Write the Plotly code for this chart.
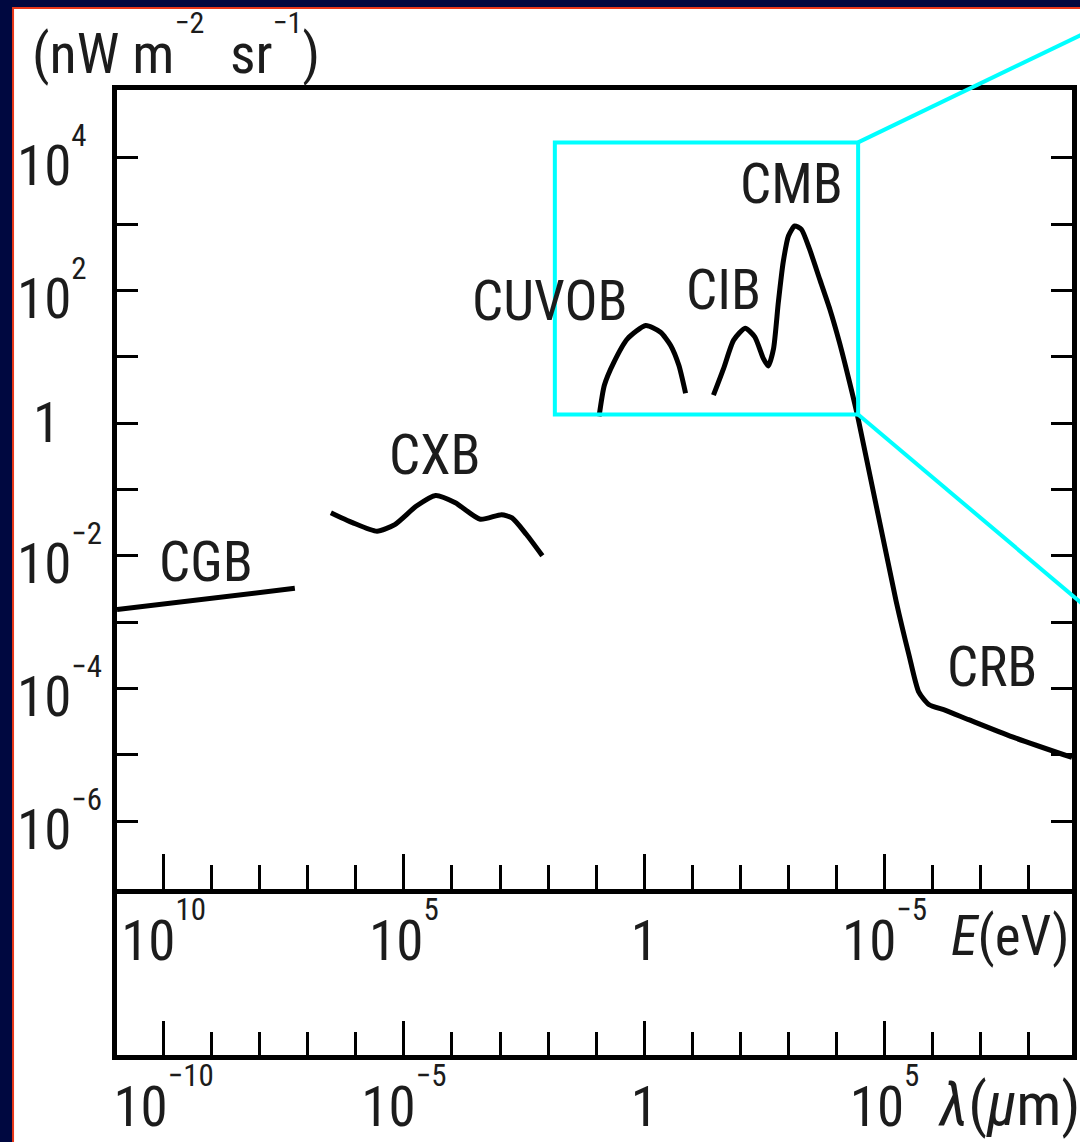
import plotly.graph_objects as go

# ---- data: log10 of wavelength (um) and log10 of intensity (nW m^-2 sr^-1) ----
cgb_log_lam = [-10.97, -7.27]
cgb_log_i = [-2.81, -2.49]

cxb_log_lam = [-6.52, -6.07, -5.56, -5.19, -4.74, -4.34, -3.93, -3.41, -2.97, -2.75, -2.45, -2.12]
cxb_log_i = [-1.35, -1.50, -1.63, -1.53, -1.25, -1.09, -1.20, -1.45, -1.38, -1.43, -1.68, -2.00]

cuvob_log_lam = [-0.94, -0.83, -0.63, -0.35, 0.03, 0.34, 0.55, 0.72, 0.86]
cuvob_log_i = [0.10, 0.57, 0.92, 1.27, 1.47, 1.37, 1.17, 0.87, 0.45]

# CIB rising into the CMB peak, then the Rayleigh-Jeans fall and the radio tail
cib_cmb_crb_log_lam = [1.44, 1.65, 1.86, 2.10, 2.30, 2.48, 2.58, 2.69, 2.79, 2.89, 3.00, 3.13,
                       3.27, 3.44, 3.65, 3.86, 4.06, 4.27, 4.45, 5.24, 5.51, 5.71, 5.92,
                       6.27, 6.75, 7.66, 8.90]
cib_cmb_crb_log_i = [0.42, 0.82, 1.25, 1.43, 1.30, 0.97, 0.86, 1.12, 1.82, 2.42, 2.82, 2.97,
                     2.92, 2.62, 2.17, 1.72, 1.22, 0.62, 0.07, -2.68, -3.50, -4.05, -4.24,
                     -4.33, -4.47, -4.73, -5.04]

band_labels = ["CGB", "CXB", "CUVOB", "CIB", "CMB", "CRB"]
band_label_log_lam = [-9.12, -4.35, -1.97, 1.64, 3.07, 7.23]
band_label_log_i = [-2.10, -0.48, 1.84, 2.01, 3.61, -3.68]

# axis ticks (decade exponents)
lam_major = [-10, -5, 0, 5]
lam_major_exp = ["−10", "−5", None, "5"]
e_major_exp = ["10", "5", None, "−5"]
lam_minor = [k for k in range(-10, 9) if k % 5]
i_ticks = [4, 2, 0, -2, -4, -6]
i_tick_exp = ["4", "2", None, "−2", "−4", "−6"]
i_all_ticks = list(range(-6, 5))

# zoom window drawn in cyan (data units)
zoom_log_lam = [-1.86, 4.45]
zoom_log_i = [0.13, 4.23]

# ---- layout geometry ----
W, H = 1080, 1142
ML, MR, MT, MB = 117, 3, 90, 82
PW, PH = W - ML - MR, H - MT - MB
SPLIT = (H - MB - 893) / PH          # top of the lower (wavelength) strip
XR = [-10.97, 8.90]
YR = [-7.02, 5.02]

FONT = "Liberation Sans Narrow, Arial Narrow, Roboto Condensed, DejaVu Sans Condensed, sans-serif"
INK = "#1c1c1c"


def sup(s, size=31):
    # exponent raised well above the digits, at a fixed small size
    return f"<sup><sup><span style='font-size:{size}px'>{s}</span></sup></sup>"


def power_label(exp):
    return "1" if exp is None else "10" + sup(exp)


def px(x):
    return (x - ML) / PW


def py(y):
    return (H - MB - y) / PH


def dx(u):
    return (u - XR[0]) / (XR[1] - XR[0])


def dy(v):
    return SPLIT + (v - YR[0]) / (YR[1] - YR[0]) * (1 - SPLIT)


def pow10(a):
    return [10 ** v for v in a]


fig = go.Figure()
fig.add_trace(go.Scatter(x=pow10(cgb_log_lam), y=pow10(cgb_log_i), mode="lines",
                         line=dict(color="black", width=5)))
for lx, ly in [(cxb_log_lam, cxb_log_i), (cuvob_log_lam, cuvob_log_i),
               (cib_cmb_crb_log_lam, cib_cmb_crb_log_i)]:
    fig.add_trace(go.Scatter(x=pow10(lx), y=pow10(ly), mode="lines",
                             line=dict(color="black", width=5, shape="spline", smoothing=0.6)))
fig.add_trace(go.Scatter(x=[None], y=[None], xaxis="x2", yaxis="y2"))

axis_common = dict(showline=True, linecolor="black", linewidth=4.5, showgrid=False,
                   zeroline=False, ticks="inside", tickcolor="black", tickwidth=3,
                   tickfont=dict(family=FONT, size=55, color=INK))
minor_x = dict(tickmode="array", tickvals=pow10(lam_minor), ticks="inside",
               ticklen=24, tickwidth=3, tickcolor="black")

fig.update_layout(
    width=W, height=H,
    margin=dict(l=ML, r=MR, t=MT, b=MB),
    paper_bgcolor="#000840", plot_bgcolor="white",
    showlegend=False,
    font=dict(family=FONT, color=INK),
    xaxis=dict(axis_common, type="log", range=XR, anchor="y", domain=[0, 1], mirror=True,
               tickmode="array", tickvals=pow10(lam_major),
               ticktext=[power_label(e) for e in e_major_exp],
               ticklen=35, minor=minor_x),
    yaxis=dict(axis_common, type="log", range=YR, anchor="x", domain=[SPLIT, 1],
               mirror="ticks", tickmode="array", tickvals=pow10(i_all_ticks),
               ticklen=21, showticklabels=False),
    xaxis2=dict(axis_common, type="log", range=XR, anchor="y2", domain=[0, 1],
                tickmode="array", tickvals=pow10(lam_major),
                ticktext=[power_label(e) for e in lam_major_exp],
                ticklen=34, minor=dict(minor_x, ticklen=23)),
    yaxis2=dict(showline=True, linecolor="black", linewidth=4.5, mirror=True, range=[0, 1],
                domain=[0, SPLIT], anchor="x2", showticklabels=False, ticks="",
                showgrid=False, zeroline=False),
)

# white page with a thin red rule on the navy background
fig.add_shape(type="rect", xref="paper", yref="paper", layer="below",
              x0=px(12.5), x1=px(1090), y0=py(1150), y1=py(7.5),
              fillcolor="white", line=dict(color="#e8381a", width=2))

# cyan zoom window and its connector lines
cyan = dict(color="#00ffff", width=4)
bx0, bx1 = dx(zoom_log_lam[0]), dx(zoom_log_lam[1])
by0, by1 = dy(zoom_log_i[0]), dy(zoom_log_i[1])
fig.add_shape(type="rect", xref="paper", yref="paper", x0=bx0, x1=bx1, y0=by0, y1=by1,
              line=cyan, layer="above")
fig.add_shape(type="line", xref="paper", yref="paper", x0=bx1, y0=by1, x1=1.045, y1=1.074,
              line=cyan, layer="above")
fig.add_shape(type="line", xref="paper", yref="paper", x0=bx1, y0=by0, x1=1.045, y1=0.439,
              line=cyan, layer="above")

# band names
for name, lx, ly in zip(band_labels, band_label_log_lam, band_label_log_i):
    fig.add_annotation(x=lx, y=ly, xref="x", yref="y", text=name, showarrow=False,
                       xanchor="center", yanchor="middle",
                       font=dict(family=FONT, size=55, color=INK))

# intensity tick labels: powers start at a common left edge, "1" sits centred
for k, e in zip(i_ticks, i_tick_exp):
    fig.add_annotation(x=px(14) if e else px(46), y=k, xref="paper", yref="y",
                       text=power_label(e), showarrow=False,
                       xanchor="left" if e else "center", yanchor="middle",
                       font=dict(family=FONT, size=55, color=INK))

# unit and axis names
fig.add_annotation(x=px(30), y=py(46), xref="paper", yref="paper", xanchor="left",
                   yanchor="middle",
                   text="(nW m" + sup("−2", 30) + "  sr" + sup("−1", 30) + ")",
                   showarrow=False, font=dict(family=FONT, size=56, color=INK))
fig.add_annotation(x=px(953), y=py(940), xref="paper", yref="paper", xanchor="left",
                   yanchor="middle", text="<i>E</i>(eV)", showarrow=False,
                   font=dict(family=FONT, size=55, color=INK))
fig.add_annotation(x=px(940), y=py(1110), xref="paper", yref="paper", xanchor="left",
                   yanchor="middle", text="<i>λ</i>(<i>μ</i>m)", showarrow=False,
                   font=dict(family=FONT, size=60, color=INK))

fig.write_html("out.html")
